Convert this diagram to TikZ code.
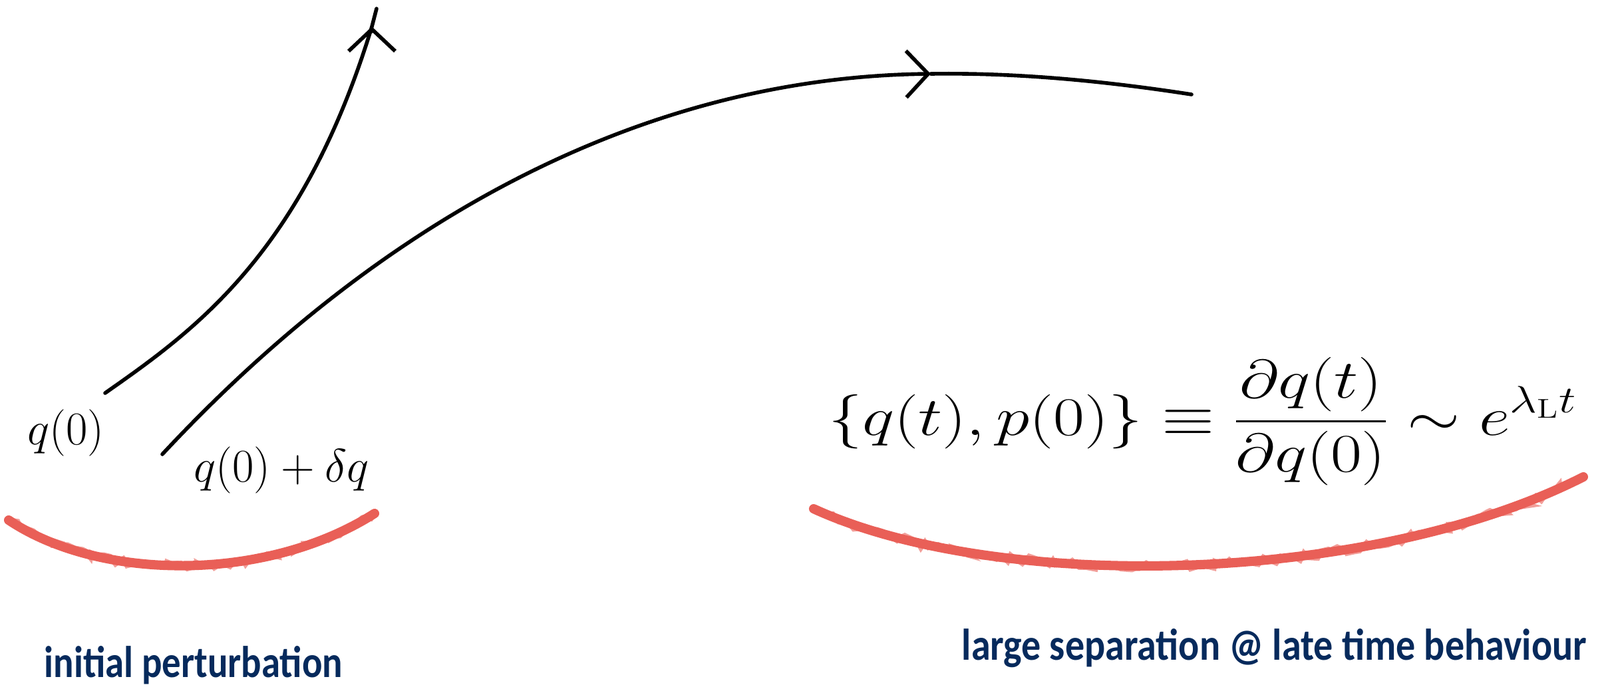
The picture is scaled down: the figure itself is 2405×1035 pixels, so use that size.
\RequirePackage{fix-cm}
\documentclass[tikz,border=0pt]{standalone}
\usepackage{amsmath,amssymb}
\usepackage{fontspec}
\usepackage{graphicx}
\usepackage{tikz}
\usetikzlibrary{arrows.meta, decorations.pathmorphing}

\newfontfamily\handfont{Carlito}
\definecolor{swooshred}{HTML}{E95F57}
\definecolor{navy}{HTML}{062A5C}

\begin{document}
\begin{tikzpicture}[
    x=0.01cm, y=-0.01cm,
    traj/.style={line width=1.6pt, line cap=round},
    chev/.style={-{Straight Barb[length=3.3mm, width=7mm]}},
    lbl/.style={font=\fontsize{20}{24}\selectfont, inner sep=0pt, anchor=base},
    formula/.style={font=\fontsize{29}{34}\selectfont, inner sep=0pt, anchor=base west},
    hand/.style={font=\handfont\bfseries\fontsize{19}{22}\selectfont, text=navy,
                 inner sep=0pt, anchor=base west},
    redmark/.style={draw=swooshred, line width=4pt, line cap=round,
                    postaction={draw=swooshred, line width=2.2pt, opacity=0.6, decorate,
                                decoration={random steps, segment length=2.5pt, amplitude=1.8pt}}},
]
\useasboundingbox (0,0) rectangle (2405,1035);

% trajectory end points
\coordinate (a0) at (158,591);
\coordinate (a1) at (559,40);
\coordinate (a2) at (566,13);
\coordinate (b0) at (244,683);
\coordinate (b1) at (1399,111);
\coordinate (b2) at (1791,142);

% unperturbed trajectory
\draw[traj] (a0) .. controls (289,499) and (454,384) .. (a1) -- (a2);
\draw[traj, chev] ([yshift=-2pt]a1) -- (a1);

% perturbed trajectory
\draw[traj, chev] (b0) .. controls (585,317) and (979,116) .. (b1);
\draw[traj] (b1) .. controls (1529,109) and (1662,122) .. (b2);

% starting points
\node[lbl] (q0) at (99,668) {$q(0)$};
\node[lbl] (q0dq) at (423,724) {$q(0)+\delta q$};

% growth of the bracket
\node[formula] (bracket) at (1245,654)
    {\scalebox{1}[0.8]{$\displaystyle \{q(t),p(0)\}\equiv\frac{\partial q(t)}{\partial q(0)}\sim e^{\lambda_{\mathrm{L}}t}$}};

% red underlines
\coordinate (r0) at (13,782);
\coordinate (r1) at (563,772);
\draw[redmark] (r0) .. controls (150,874) and (400,876) .. (r1);
\coordinate (s0) at (1223,765);
\coordinate (s1) at (2380,717);
\draw[redmark] (s0) .. controls (1500,892) and (2060,880) .. (s1);

% captions
\node[hand] (initlbl) at (66,1018) {\scalebox{0.85}[1]{initial perturbation}};
\node[hand] (latelbl) at (1445,992) {\scalebox{0.87}[1]{large separation @ late time behaviour}};

\end{tikzpicture}
\end{document}
